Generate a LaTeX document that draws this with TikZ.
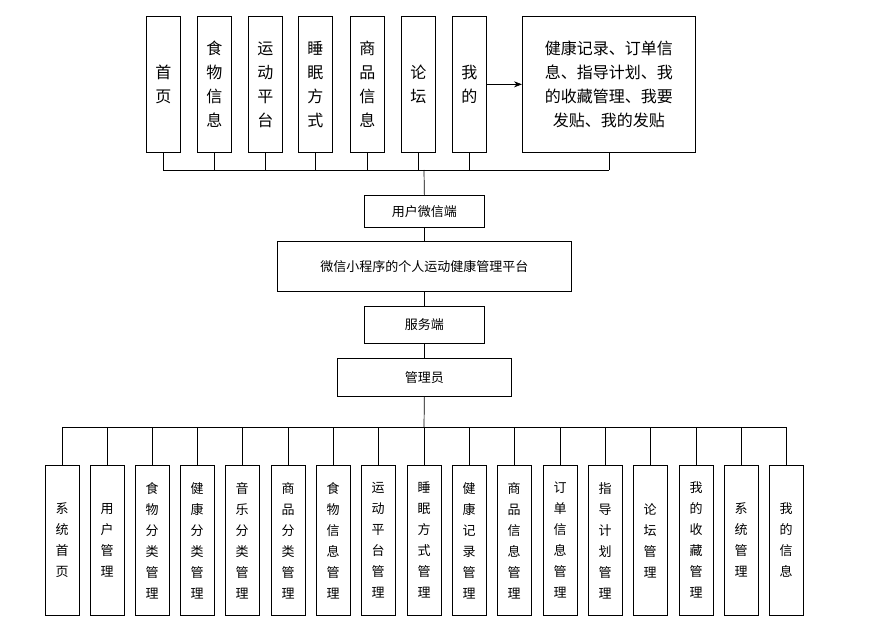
\documentclass[tikz,border=0pt]{standalone}
\usepackage{fontspec}
\setmainfont{Noto Sans CJK SC}
\usetikzlibrary{arrows.meta}
\begin{document}
\begin{tikzpicture}[x=1pt,y=-1pt,
  box/.style={draw,line width=0.7pt,inner sep=0pt,anchor=north west},
  conn/.style={line width=0.7pt}]
\useasboundingbox (0,0) rectangle (869,644);
\foreach \n/\x/\t in {t1/146/{首\\页},t2/197/{食\\物\\信\\息},t3/248/{运\\动\\平\\台},t4/298/{睡\\眠\\方\\式},t5/350/{商\\品\\信\\息},t6/401/{论\\坛},t7/452/{我\\的}}{
  \node[box,minimum width=34pt,minimum height=136pt,align=center,font=\fontsize{16}{24}\selectfont] (\n) at (\x,16) {\t};
}
\node[box,minimum width=173pt,minimum height=136pt,align=center,font=\fontsize{16}{24}\selectfont] (big) at (522,16) {健康记录、订单信\\息、指导计划、我\\的收藏管理、我要\\发贴、我的发贴};
\draw[conn,-{Stealth[length=8pt]}] (t7.east) -- (big.west);
\coordinate (bus1) at (424,170);
\foreach \n in {t1,t2,t3,t4,t5,t6,t7,big}{\draw[conn] (\n.south) -- (\n.south|-bus1);}
\draw[conn] (t1.south|-bus1) -- (big.south|-bus1);
\node[box,minimum width=120pt,minimum height=32pt,font=\fontsize{13}{15}\selectfont] (wx) at (364,195) {用户微信端};
\node[box,minimum width=294pt,minimum height=50pt,font=\fontsize{13}{15}\selectfont] (pf) at (277,241) {微信小程序的个人运动健康管理平台};
\node[box,minimum width=120pt,minimum height=37pt,font=\fontsize{13}{15}\selectfont] (sv) at (364,306) {服务端};
\node[box,minimum width=174pt,minimum height=38pt,font=\fontsize{13}{15}\selectfont] (ad) at (337,358) {管理员};
\draw[conn] (bus1) -- (wx.north);
\draw[conn] (wx.south) -- (pf.north);
\draw[conn] (pf.south) -- (sv.north);
\draw[conn] (sv.south) -- (ad.north);
\coordinate (bus2) at (424,427);
\draw[conn] (ad.south) -- (bus2);
\foreach \n/\c/\t in {b1/62/{系\\统\\首\\页},b2/107/{用\\户\\管\\理},b3/152/{食\\物\\分\\类\\管\\理},b4/197/{健\\康\\分\\类\\管\\理},b5/242/{音\\乐\\分\\类\\管\\理},b6/288/{商\\品\\分\\类\\管\\理},b7/333/{食\\物\\信\\息\\管\\理},b8/378/{运\\动\\平\\台\\管\\理},b9/424/{睡\\眠\\方\\式\\管\\理},b10/469/{健\\康\\记\\录\\管\\理},b11/514/{商\\品\\信\\息\\管\\理},b12/560/{订\\单\\信\\息\\管\\理},b13/605/{指\\导\\计\\划\\管\\理},b14/650/{论\\坛\\管\\理},b15/696/{我\\的\\收\\藏\\管\\理},b16/741/{系\\统\\管\\理},b17/786/{我\\的\\信\\息}}{
  \node[draw,line width=0.7pt,inner sep=0pt,anchor=north,minimum width=34pt,minimum height=150pt,align=center,font=\fontsize{13}{21}\selectfont] (\n) at (\c,465) {\t};
  \draw[conn] (\n.north) -- (\n.north|-bus2);
}
\draw[conn] (b1.north|-bus2) -- (b17.north|-bus2);
\end{tikzpicture}
\end{document}
